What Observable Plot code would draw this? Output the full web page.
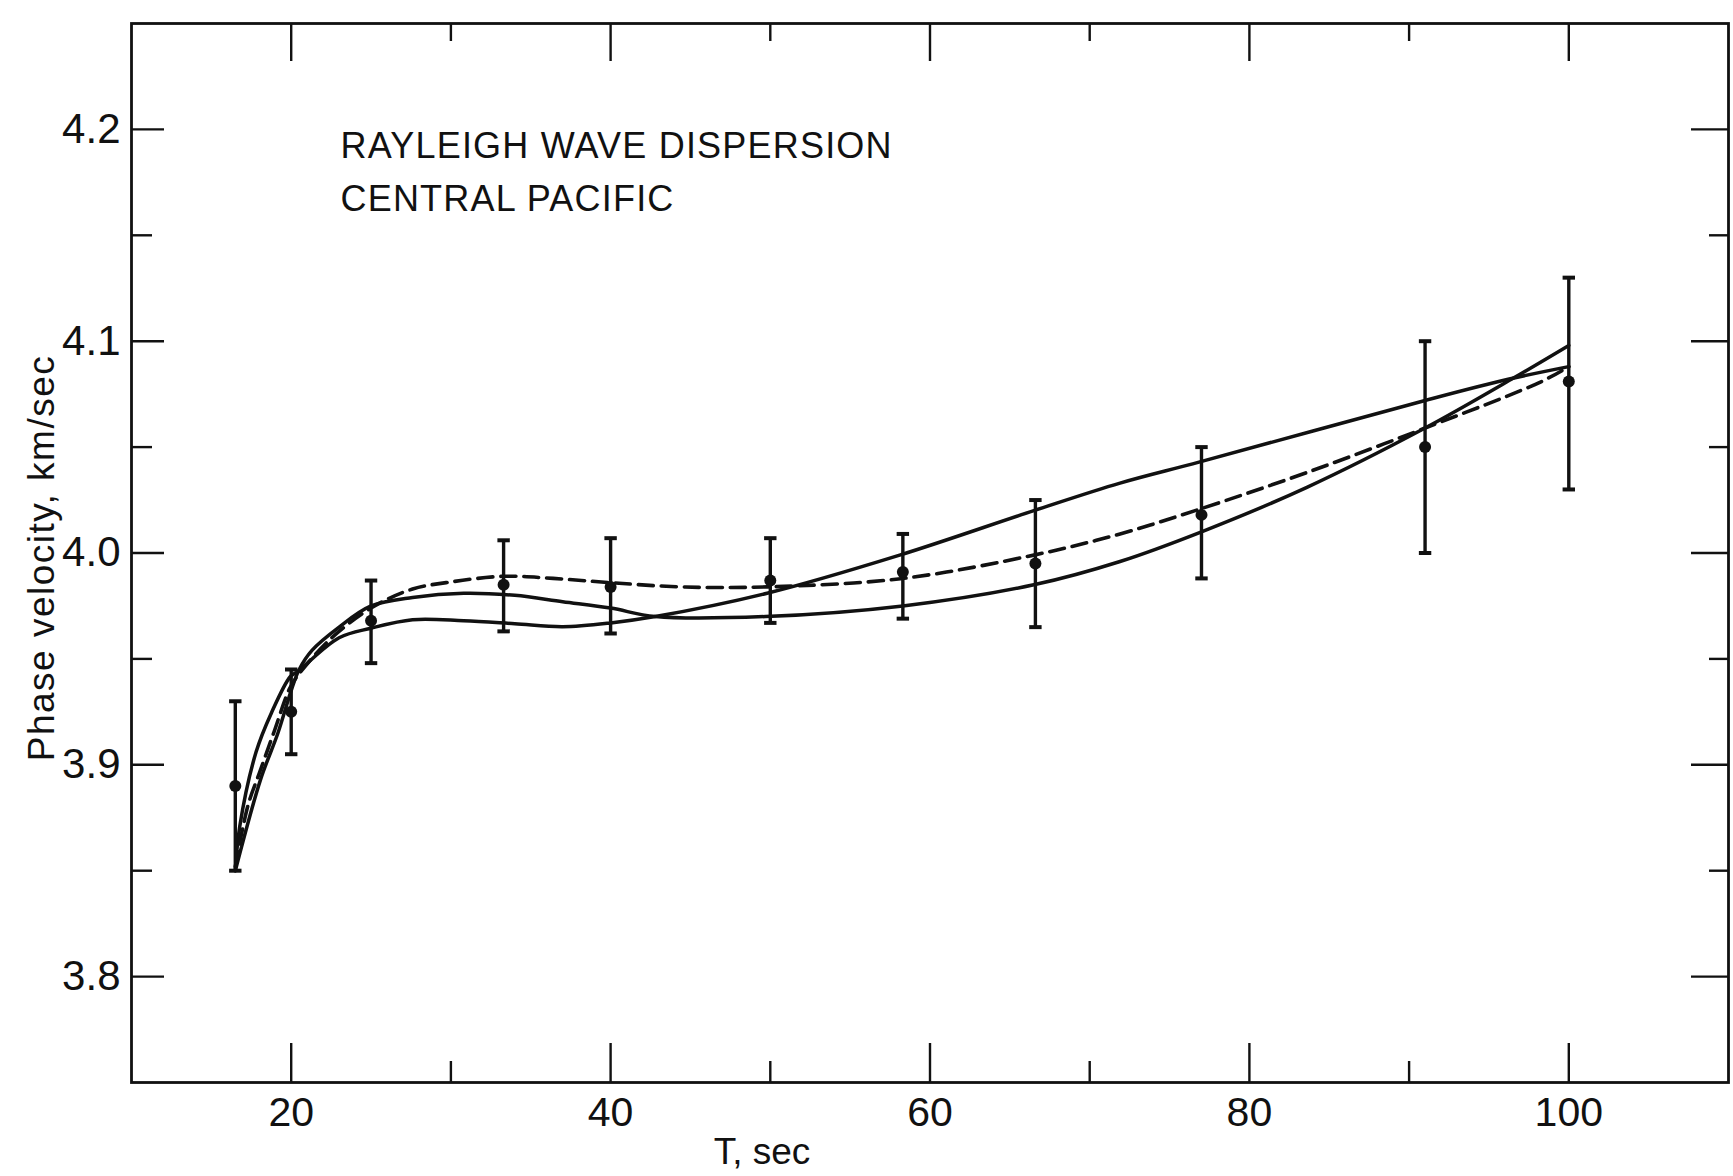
<!DOCTYPE html>
<html>
<head>
<meta charset="utf-8">
<script src="https://cdn.jsdelivr.net/npm/d3@7"></script>
<script src="https://cdn.jsdelivr.net/npm/@observablehq/plot@0.6"></script>
<style>
  html, body { margin: 0; padding: 0; background: #fff; }
  #chart svg { display: block; }
</style>
</head>
<body>
<div id="chart"></div>
<script>
// ---- Data ----
// Observed phase velocities with error bars
const periods   = [16.5, 20, 25, 33.3, 40, 50, 58.3, 66.6, 77, 91, 100];
const velocity  = [3.890, 3.925, 3.968, 3.985, 3.984, 3.987, 3.991, 3.995, 4.018, 4.050, 4.081];
const errLow    = [3.850, 3.905, 3.948, 3.963, 3.962, 3.967, 3.969, 3.965, 3.988, 4.000, 4.030];
const errHigh   = [3.930, 3.945, 3.987, 4.006, 4.007, 4.007, 4.009, 4.025, 4.050, 4.100, 4.130];

// Solid curve 1 (hump near 30 s, flat, steep at the long-period end)
const curve1T = [16.5, 18.08, 19.17, 20.04, 20.5, 21.3, 23.0, 25.0, 27.6, 30.8, 34.0, 37.0, 40.0, 42.8, 49.7, 58.3, 66.5, 71.9, 77.0, 83.6, 91.0, 96.4, 100];
const curve1V = [3.850, 3.893, 3.915, 3.936, 3.945, 3.954, 3.965, 3.975, 3.979, 3.981, 3.980, 3.977, 3.974, 3.970, 3.970, 3.975, 3.985, 3.996, 4.010, 4.031, 4.059, 4.082, 4.098];

// Solid curve 2 (low plateau, then nearly straight rise)
const curve2T = [16.5, 16.78, 17.8, 18.76, 19.95, 20.4, 23.0, 25.0, 27.6, 30.8, 34.0, 37.0, 40.0, 42.8, 49.8, 58.1, 66.5, 71.9, 76.9, 91.0, 96.2, 100];
const curve2V = [3.850, 3.871, 3.906, 3.9245, 3.9417, 3.944, 3.960, 3.9645, 3.9685, 3.968, 3.9666, 3.9652, 3.967, 3.970, 3.981, 3.999, 4.020, 4.033, 4.043, 4.072, 4.082, 4.088];

// Dashed curve
const dashedT = [16.5, 17.3, 18.0, 18.9, 19.9, 20.4, 22.4, 25.0, 27.6, 29.7, 33.3, 36.4, 40.0, 44.4, 49.8, 58.3, 66.5, 71.9, 77.0, 83.6, 91.0, 98.3, 100];
const dashedV = [3.852, 3.881, 3.896, 3.915, 3.936, 3.942, 3.959, 3.974, 3.983, 3.986, 3.989, 3.988, 3.986, 3.984, 3.984, 3.988, 3.999, 4.009, 4.021, 4.038, 4.059, 4.081, 4.088];

// Axis ticks
const xMajor = [20, 40, 60, 80, 100];
const xMinor = [30, 50, 70, 90];
const yMajor = [3.8, 3.9, 4.0, 4.1, 4.2];
const yMinor = [3.85, 3.95, 4.05, 4.15];

const titleLines = "RAYLEIGH WAVE DISPERSION\nCENTRAL PACIFIC";
const yTitle = "Phase velocity, km/sec";
const xTitle = "T, sec";

// ---- Build tables ----
const points = periods.map((t, i) => ({T: t, v: velocity[i], lo: errLow[i], hi: errHigh[i]}));
const c1 = curve1T.map((t, i) => ({T: t, v: curve1V[i]}));
const c2 = curve2T.map((t, i) => ({T: t, v: curve2V[i]}));
const cd = dashedT.map((t, i) => ({T: t, v: dashedV[i]}));

const W = 1733, H = 1176;
const mL = 131, mR = 5, mT = 23, mB = 94;
const pw = W - mL - mR, ph = H - mT - mB;

// Horizontal cap symbol for error bars
const capSymbol = {
  draw(ctx, size) {
    const w = Math.sqrt(size);
    ctx.moveTo(-w / 2, 0);
    ctx.lineTo(w / 2, 0);
  }
};

const ink = "#111";

const chart = Plot.plot({
  width: W,
  height: H,
  marginLeft: mL,
  marginRight: mR,
  marginTop: mT,
  marginBottom: mB,
  style: {fontFamily: "'Liberation Sans', Arial, sans-serif", fontSize: "40px", background: "#fff", color: ink},
  x: {domain: [10, 110], axis: null},
  y: {domain: [3.75, 4.25], axis: null},
  marks: [
    Plot.frame({stroke: ink, strokeWidth: 2.8}),
    // inward ticks: left
    Plot.tickY(yMajor, {y: d => d, insetRight: pw - 33, stroke: ink, strokeWidth: 2.4}),
    Plot.tickY(yMinor, {y: d => d, insetRight: pw - 21, stroke: ink, strokeWidth: 2.4}),
    // right
    Plot.tickY(yMajor, {y: d => d, insetLeft: pw - 37, stroke: ink, strokeWidth: 2.4}),
    Plot.tickY(yMinor, {y: d => d, insetLeft: pw - 19, stroke: ink, strokeWidth: 2.4}),
    // bottom
    Plot.tickX(xMajor, {x: d => d, insetTop: ph - 39, stroke: ink, strokeWidth: 2.4}),
    Plot.tickX(xMinor, {x: d => d, insetTop: ph - 21, stroke: ink, strokeWidth: 2.4}),
    // top
    Plot.tickX(xMajor, {x: d => d, insetBottom: ph - 38, stroke: ink, strokeWidth: 2.4}),
    Plot.tickX(xMinor, {x: d => d, insetBottom: ph - 18, stroke: ink, strokeWidth: 2.4}),
    // tick labels
    Plot.axisY({ticks: yMajor, tickSize: 0, tickPadding: 11, tickFormat: d3.format(".1f"), fontSize: 42, label: null, fill: ink}),
    Plot.axisX({ticks: xMajor, tickSize: 0, tickPadding: 14, tickFormat: d3.format("d"), fontSize: 41, label: null, fill: ink}),
    // curves
    Plot.line(c1, {x: "T", y: "v", curve: "catmull-rom", stroke: ink, strokeWidth: 3.5}),
    Plot.line(c2, {x: "T", y: "v", curve: "catmull-rom", stroke: ink, strokeWidth: 3.5}),
    Plot.line(cd, {x: "T", y: "v", curve: "catmull-rom", stroke: ink, strokeWidth: 3.6, strokeDasharray: "15,8"}),
    // error bars
    Plot.ruleX(points, {x: "T", y1: "lo", y2: "hi", stroke: ink, strokeWidth: 3.4}),
    Plot.dot(points, {x: "T", y: "lo", symbol: capSymbol, r: 7, stroke: ink, strokeWidth: 4}),
    Plot.dot(points, {x: "T", y: "hi", symbol: capSymbol, r: 7, stroke: ink, strokeWidth: 4}),
    Plot.dot(points, {x: "T", y: "v", r: 6, fill: ink, stroke: null}),
    // texts
    Plot.text([titleLines], {text: d => d, frameAnchor: "top-left", textAnchor: "start", lineAnchor: "top", dx: 209, dy: 97, fontSize: 36, lineHeight: 1.47, fill: ink}),
    Plot.text([yTitle], {text: d => d, frameAnchor: "left", rotate: -90, textAnchor: "middle", lineAnchor: "top", dx: -104, dy: 5, fontSize: 37, fill: ink}),
    Plot.text([xTitle], {text: d => d, frameAnchor: "bottom", textAnchor: "middle", lineAnchor: "middle", dx: -168, dy: 70, fontSize: 37, fill: ink})
  ]
});

// letter spacing for the lettering-style texts
d3.select(chart).selectAll("text, tspan").each(function () {
  const t = this.textContent;
  if (t.startsWith("RAYLEIGH") || t.startsWith("CENTRAL")) this.style.letterSpacing = "1.2px";
  if (t === yTitle) this.style.letterSpacing = "1.5px";
});

document.getElementById("chart").appendChild(chart);
</script>
</body>
</html>
